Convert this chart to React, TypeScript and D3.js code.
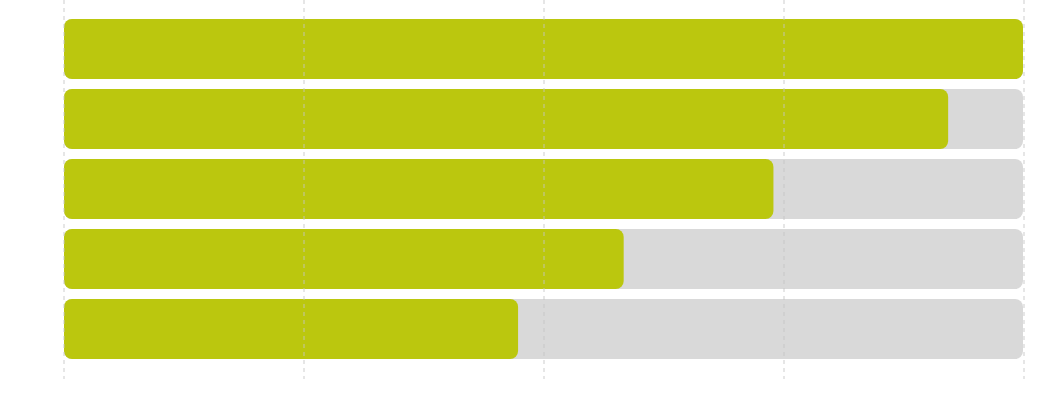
import React from "react";
import * as d3 from "d3";

const categories = ["A", "B", "C", "D", "E"];
const values = [100, 92.1, 73.9, 58.3, 47.3];
const maxValues = [100, 100, 100, 100, 100];
const ticks = [0, 25, 50, 75, 100];

const W = 1046;
const H = 411;

export default function App() {
  const x = d3.scaleLinear().domain([0, 100]).range([64, 1024]);
  const y = d3.scaleBand<string>().domain(categories).range([14, 364]).paddingInner(10 / 70).paddingOuter(5 / 70);
  const bw = y.bandwidth();
  return (
    <div style={{ position: "absolute", left: 0, top: 0 }}>
      <svg width={W} height={H} style={{ display: "block" }}>
        <rect width={W} height={H} fill="#fff" />
        {categories.map((c, i) => (
          <g key={c}>
            <rect x={x(0)} y={y(c)} width={x(maxValues[i]) - x(0) - 1} height={bw} rx={8} ry={8} fill="#d9d9d9" />
            <rect x={x(0)} y={y(c)} width={Math.min(x(values[i]) - x(0), x(100) - x(0) - 1)} height={bw} rx={8} ry={8} fill="#bbc70e" />
          </g>
        ))}
        {ticks.map((t) => (
          <line key={t} x1={x(t)} x2={x(t)} y1={0} y2={379} stroke="#c4c4c4" strokeOpacity={0.85} strokeWidth={1} strokeDasharray="4,4" />
        ))}
      </svg>
    </div>
  );
}
